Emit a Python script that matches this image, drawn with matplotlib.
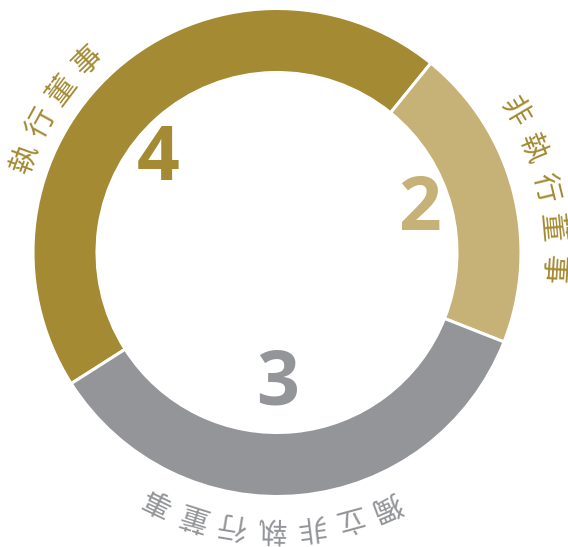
import numpy as np
import matplotlib
matplotlib.use("Agg")
import matplotlib.pyplot as plt

# ---- data ----
categories = ["執行董事", "非執行董事", "獨立非執行董事"]
counts = [4, 2, 3]
# arc share of each ring segment as drawn in the picture (degrees)
arc_share = [161.6, 72.4, 126.0]
seg_colors = ["#A48A32", "#C6B276", "#939598"]
label_colors = ["#A48A32", "#A48A32", "#939598"]

W, H = 568, 547
fig = plt.figure(figsize=(W / 100, H / 100), dpi=100)
ax = fig.add_axes([0, 0, 1, 1])

cx, cy = 277, H - 252.5
R_out, ring_w = 244, 64

ax.pie(arc_share, colors=seg_colors, radius=R_out, center=(cx, cy),
       startangle=212.5, counterclock=False,
       wedgeprops=dict(width=ring_w, edgecolor="white", linewidth=2.2))

ax.set_xlim(0, W)
ax.set_ylim(0, H)
ax.set_aspect("equal")
ax.axis("off")

# count numbers
num_pos = [(158, 161), (420, 210), (278, 385)]
for n, (x, y), c in zip(counts, num_pos, seg_colors):
    ax.text(x, H - y, str(n), color=c, fontsize=54, fontweight="bold",
            family="Open Sans", ha="center", va="center")

# curved labels (characters run clockwise, tops facing outward)
label_layout = [(159.7, 8.4, 269), (30.6, 8.5, 275), (-66.6, 8.2, 275)]
for text, col, (a0, step, r) in zip(categories, label_colors, label_layout):
    for i, ch in enumerate(text):
        a = np.deg2rad(a0 - i * step)
        x = cx + r * np.cos(a)
        y = cy + r * np.sin(a)
        ax.text(x, y, ch, color=col, fontsize=21, fontweight="medium",
                family=["Noto Sans CJK TC", "DejaVu Sans"],
                rotation=np.rad2deg(a) - 90, rotation_mode="anchor",
                ha="center", va="center")

fig.savefig("out.png", dpi=100, facecolor="white")
